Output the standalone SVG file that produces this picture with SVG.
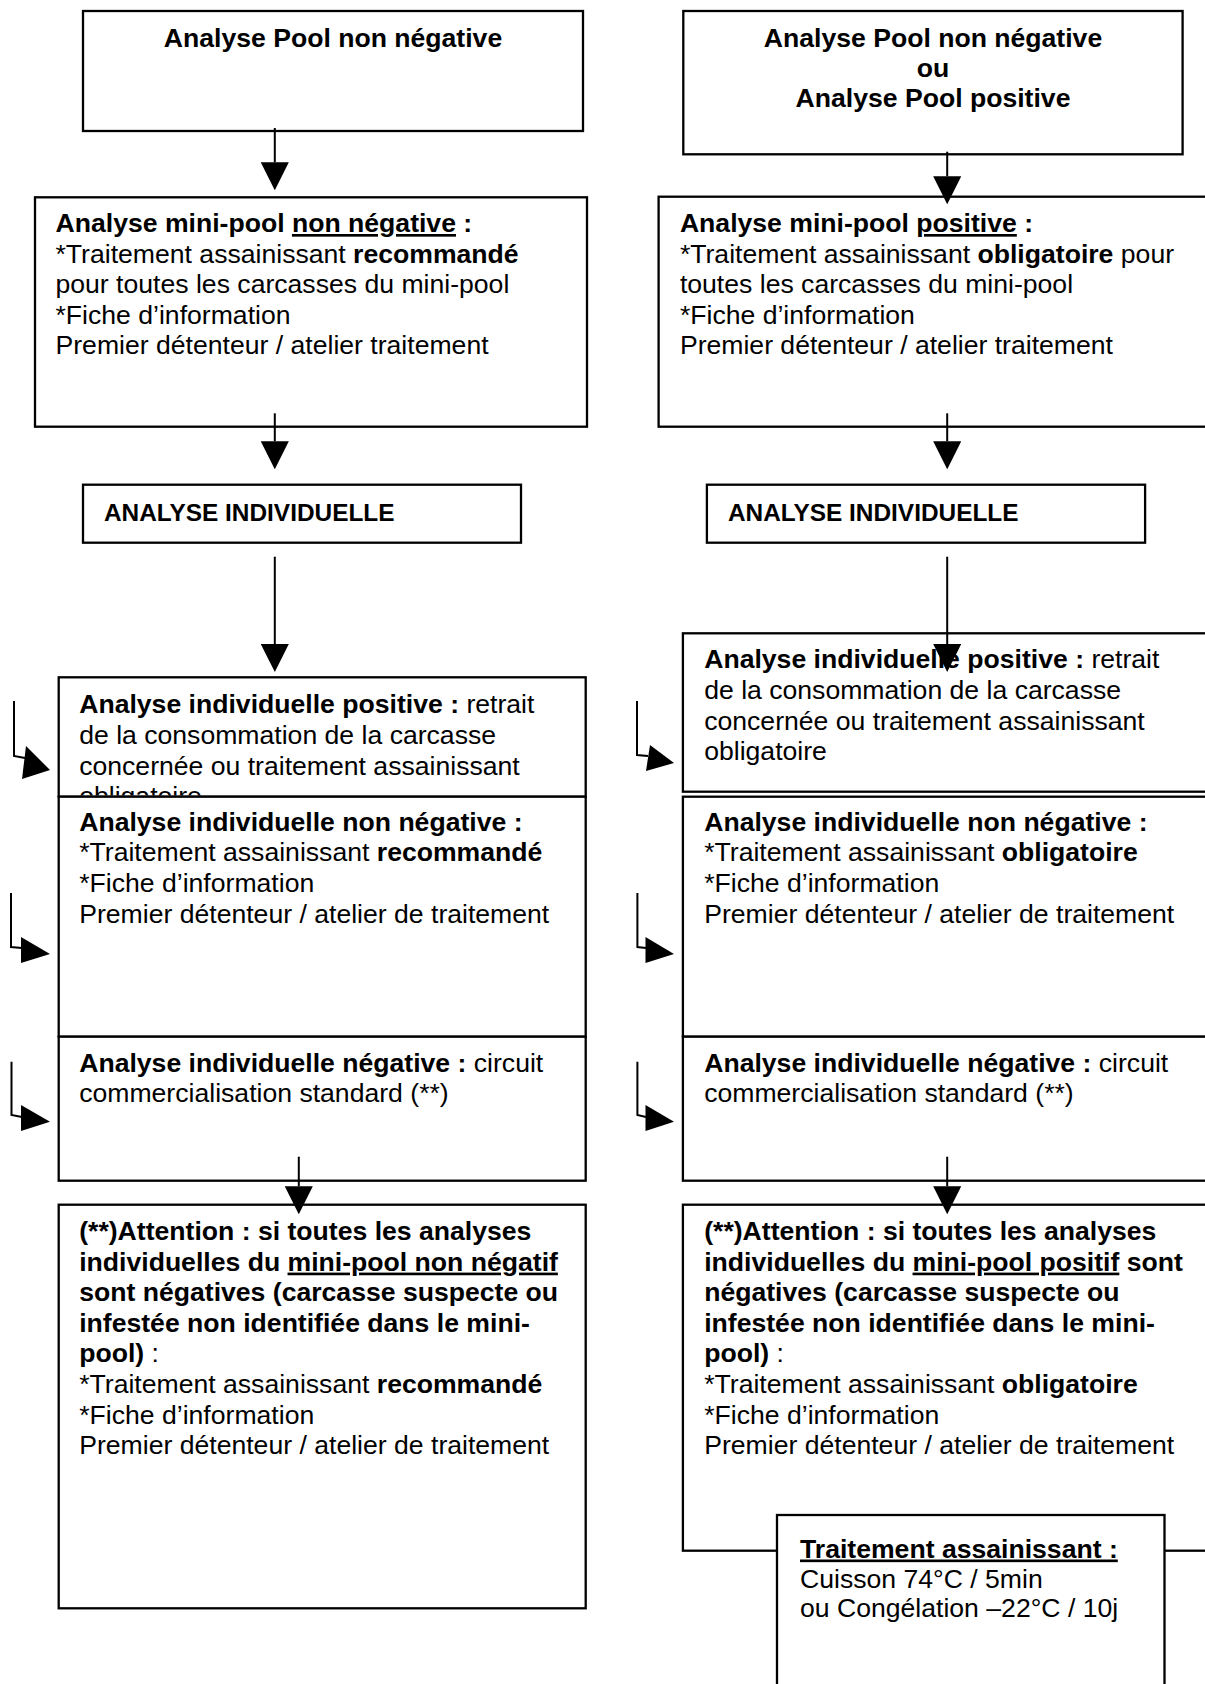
<svg xmlns="http://www.w3.org/2000/svg" width="1205" height="1684" viewBox="0 0 1205 1684">
<style>
.box{fill:#fff;stroke:#000;stroke-width:2.3}
.t{font-family:"Liberation Sans",Arial,Helvetica,sans-serif;font-size:26.6px;fill:#000}
.s{font-size:24.4px}
.b{font-weight:bold}
.u{text-decoration:underline}
.c{text-anchor:middle}
.conn{stroke:#000;stroke-width:2;fill:none}
.head{fill:#000;stroke:none}
</style>
<defs>
<marker id="arr" markerUnits="userSpaceOnUse" markerWidth="28" markerHeight="28" viewBox="0 0 27 27" refX="0" refY="13.5" orient="auto">
<path d="M0,0 L27,13.5 L0,27 z" fill="#000"/>
</marker>
<clipPath id="clipPos">
<rect x="58.7" y="677.3" width="527" height="118.2"/>
</clipPath>
</defs>
<rect width="1205" height="1684" fill="#fff"/>

<!-- LEFT COLUMN -->
<g id="L-pool">
<rect class="box" x="83" y="11" width="500" height="120"/>
<text class="t b c" x="333" y="46.7">Analyse Pool non négative</text>
</g>
<g id="L-minipool">
<rect class="box" x="35" y="197.3" width="552" height="229.4"/>
<text class="t" x="55.5" y="232"><tspan class="b">Analyse mini-pool </tspan><tspan class="b u">non négative</tspan><tspan class="b"> :</tspan></text>
<text class="t" x="55.5" y="262.6">*Traitement assainissant <tspan class="b">recommandé</tspan></text>
<text class="t" x="55.5" y="293.2">pour toutes les carcasses du mini-pool</text>
<text class="t" x="55.5" y="323.8">*Fiche d’information</text>
<text class="t" x="55.5" y="354.4">Premier détenteur / atelier traitement</text>
</g>
<g id="L-indiv">
<rect class="box" x="83" y="484.7" width="438" height="58"/>
<text class="t s b" x="104" y="520.7">ANALYSE INDIVIDUELLE</text>
</g>
<g id="L-pos">
<rect class="box" x="58.7" y="677.3" width="527" height="119.4"/>
<text class="t" x="79.2" y="713.3"><tspan class="b">Analyse individuelle positive :</tspan> retrait</text>
<text class="t" x="79.2" y="743.9">de la consommation de la carcasse</text>
<text class="t" x="79.2" y="774.5">concernée ou traitement assainissant</text>
<text class="t" x="79.2" y="805.1" clip-path="url(#clipPos)">obligatoire</text>
</g>
<g id="L-nonneg">
<rect class="box" x="58.7" y="796.7" width="527" height="240"/>
<text class="t b" x="79.2" y="830.7">Analyse individuelle non négative :</text>
<text class="t" x="79.2" y="861.3">*Traitement assainissant <tspan class="b">recommandé</tspan></text>
<text class="t" x="79.2" y="891.9">*Fiche d’information</text>
<text class="t" x="79.2" y="922.5">Premier détenteur / atelier de traitement</text>
</g>
<g id="L-neg">
<rect class="box" x="58.7" y="1036.7" width="527" height="144"/>
<text class="t" x="79.2" y="1071.7"><tspan class="b">Analyse individuelle négative :</tspan> circuit</text>
<text class="t" x="79.2" y="1102.3">commercialisation standard (**)</text>
</g>
<g id="L-attention">
<rect class="box" x="58.7" y="1204.7" width="527" height="403.6"/>
<text class="t b" x="79.2" y="1240">(**)Attention : si toutes les analyses</text>
<text class="t b" x="79.2" y="1270.6">individuelles du <tspan class="u">mini-pool non négatif</tspan></text>
<text class="t b" x="79.2" y="1301.2">sont négatives (carcasse suspecte ou</text>
<text class="t b" x="79.2" y="1331.8">infestée non identifiée dans le mini-</text>
<text class="t" x="79.2" y="1362.4"><tspan class="b">pool)</tspan> :</text>
<text class="t" x="79.2" y="1393">*Traitement assainissant <tspan class="b">recommandé</tspan></text>
<text class="t" x="79.2" y="1423.6">*Fiche d’information</text>
<text class="t" x="79.2" y="1454.2">Premier détenteur / atelier de traitement</text>
</g>

<!-- RIGHT COLUMN -->
<g id="R-pool">
<rect class="box" x="683.3" y="11" width="499.3" height="143.3"/>
<text class="t b c" x="933" y="46.7">Analyse Pool non négative</text>
<text class="t b c" x="933" y="77">ou</text>
<text class="t b c" x="933" y="107.3">Analyse Pool positive</text>
</g>
<g id="R-minipool">
<rect class="box" x="658.6" y="196.7" width="560" height="230"/>
<text class="t" x="679.9" y="232"><tspan class="b">Analyse mini-pool </tspan><tspan class="b u">positive</tspan><tspan class="b"> :</tspan></text>
<text class="t" x="679.9" y="262.6">*Traitement assainissant <tspan class="b">obligatoire</tspan> pour</text>
<text class="t" x="679.9" y="293.2">toutes les carcasses du mini-pool</text>
<text class="t" x="679.9" y="323.8">*Fiche d’information</text>
<text class="t" x="679.9" y="354.4">Premier détenteur / atelier traitement</text>
</g>
<g id="R-indiv">
<rect class="box" x="706.9" y="484.7" width="438.2" height="58"/>
<text class="t s b" x="728" y="520.7">ANALYSE INDIVIDUELLE</text>
</g>
<g id="R-pos">
<rect class="box" x="682.9" y="633.3" width="540" height="158.4"/>
<text class="t" x="704.2" y="668.3"><tspan class="b">Analyse individuelle positive :</tspan> retrait</text>
<text class="t" x="704.2" y="698.9">de la consommation de la carcasse</text>
<text class="t" x="704.2" y="729.5">concernée ou traitement assainissant</text>
<text class="t" x="704.2" y="760.1">obligatoire</text>
</g>
<g id="R-nonneg">
<rect class="box" x="682.9" y="796.7" width="540" height="240"/>
<text class="t b" x="704.2" y="830.7">Analyse individuelle non négative :</text>
<text class="t" x="704.2" y="861.3">*Traitement assainissant <tspan class="b">obligatoire</tspan></text>
<text class="t" x="704.2" y="891.9">*Fiche d’information</text>
<text class="t" x="704.2" y="922.5">Premier détenteur / atelier de traitement</text>
</g>
<g id="R-neg">
<rect class="box" x="682.9" y="1036.7" width="540" height="144"/>
<text class="t" x="704.2" y="1071.7"><tspan class="b">Analyse individuelle négative :</tspan> circuit</text>
<text class="t" x="704.2" y="1102.3">commercialisation standard (**)</text>
</g>
<g id="R-attention">
<rect class="box" x="682.9" y="1204.7" width="540" height="346"/>
<text class="t b" x="704.2" y="1240">(**)Attention : si toutes les analyses</text>
<text class="t b" x="704.2" y="1270.6">individuelles du <tspan class="u">mini-pool positif</tspan> sont</text>
<text class="t b" x="704.2" y="1301.2">négatives (carcasse suspecte ou</text>
<text class="t b" x="704.2" y="1331.8">infestée non identifiée dans le mini-</text>
<text class="t" x="704.2" y="1362.4"><tspan class="b">pool)</tspan> :</text>
<text class="t" x="704.2" y="1393">*Traitement assainissant <tspan class="b">obligatoire</tspan></text>
<text class="t" x="704.2" y="1423.6">*Fiche d’information</text>
<text class="t" x="704.2" y="1454.2">Premier détenteur / atelier de traitement</text>
</g>
<g id="R-traitement">
<rect class="box" x="777" y="1515" width="387.5" height="200"/>
<text class="t b u" x="800" y="1557.5">Traitement assainissant :</text>
<text class="t" x="800" y="1587.5">Cuisson 74°C / 5min</text>
<text class="t" x="800" y="1617">ou Congélation –22°C / 10j</text>
</g>

<!-- CONNECTORS -->
<g id="connectors">
<line class="conn" x1="274.8" y1="128" x2="274.8" y2="162.3" marker-end="url(#arr)"/>
<line class="conn" x1="274.8" y1="413.3" x2="274.8" y2="441.3" marker-end="url(#arr)"/>
<line class="conn" x1="274.8" y1="556.7" x2="274.8" y2="644" marker-end="url(#arr)"/>
<line class="conn" x1="298.8" y1="1156.7" x2="298.8" y2="1186.3" marker-end="url(#arr)"/>
<line class="conn" x1="947.2" y1="151.7" x2="947.2" y2="176.3" marker-end="url(#arr)"/>
<line class="conn" x1="947.2" y1="413.3" x2="947.2" y2="441.3" marker-end="url(#arr)"/>
<line class="conn" x1="947.2" y1="556.7" x2="947.2" y2="644" marker-end="url(#arr)"/>
<line class="conn" x1="947.2" y1="1156.7" x2="947.2" y2="1186.3" marker-end="url(#arr)"/>

<path class="conn" d="M14,701 V756 L25,758"/>
<polygon class="head" points="26,746 50,770 22,779"/>
<path class="conn" d="M11,893 V947 L22,948"/>
<polygon class="head" points="21,937 50,954 21,963"/>
<path class="conn" d="M11.5,1061.7 V1115 L22,1117"/>
<polygon class="head" points="21,1105 50,1121.7 21,1131"/>

<path class="conn" d="M637,701 V755 L648,756"/>
<polygon class="head" points="650,745 674,763 646,771"/>
<path class="conn" d="M637.4,893 V947 L646,948"/>
<polygon class="head" points="645.5,937 674,954 645.5,963"/>
<path class="conn" d="M637.4,1061.7 V1115 L646,1117"/>
<polygon class="head" points="645.5,1105 674,1121.7 645.5,1131"/>
</g>
</svg>
